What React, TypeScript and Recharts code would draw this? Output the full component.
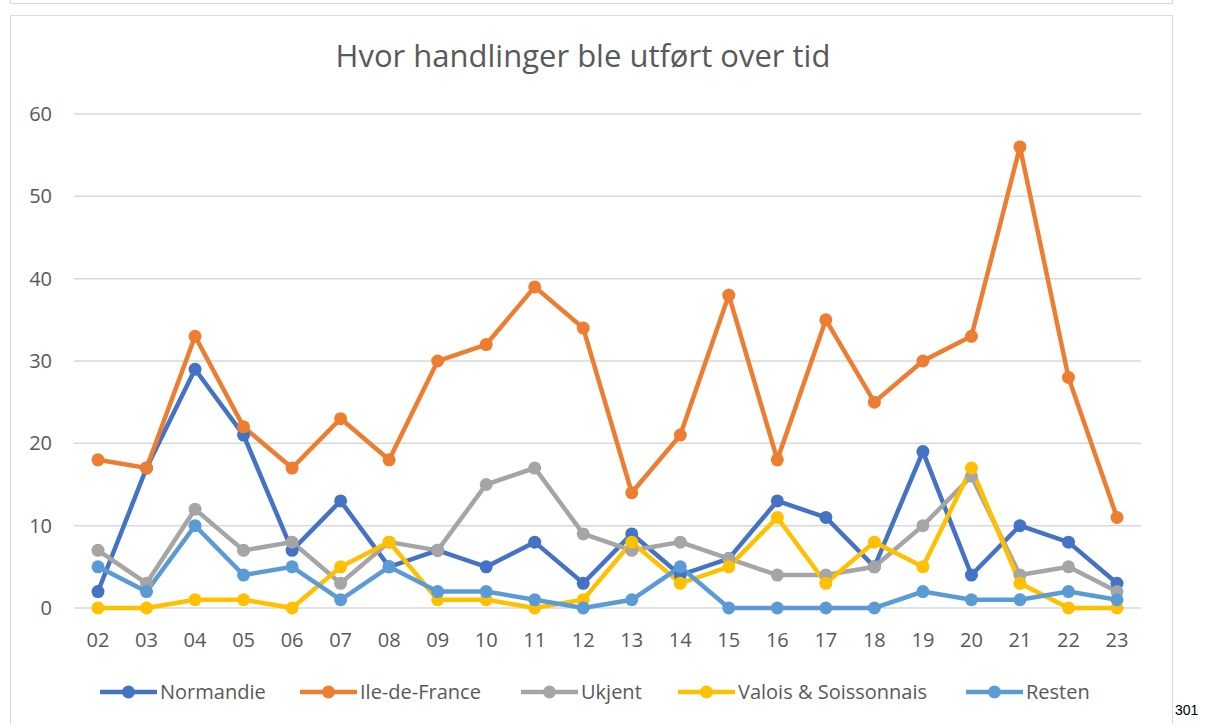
import React from "react";
import { LineChart, Line, XAxis, YAxis, CartesianGrid } from "recharts";

const categories = ["02","03","04","05","06","07","08","09","10","11","12","13","14","15","16","17","18","19","20","21","22","23"];
const normandie = [2,17,29,21,7,13,5,7,5,8,3,9,4,6,13,11,5,19,4,10,8,3];
const ileDeFrance = [18,17,33,22,17,23,18,30,32,39,34,14,21,38,18,35,25,30,33,56,28,11];
const ukjent = [7,3,12,7,8,3,8,7,15,17,9,7,8,6,4,4,5,10,16,4,5,2];
const valois = [0,0,1,1,0,5,8,1,1,0,1,8,3,5,11,3,8,5,17,3,0,0];
const resten = [5,2,10,4,5,1,5,2,2,1,0,1,5,0,0,0,0,2,1,1,2,1];
const yTicks = [0,10,20,30,40,50,60];

const series = [
  { key: "normandie", name: "Normandie", color: "#4472C4", values: normandie },
  { key: "ile", name: "Ile-de-France", color: "#ED7D31", values: ileDeFrance },
  { key: "ukjent", name: "Ukjent", color: "#A5A5A5", values: ukjent },
  { key: "valois", name: "Valois & Soissonnais", color: "#FFC000", values: valois },
  { key: "resten", name: "Resten", color: "#5B9BD5", values: resten },
];

const data = categories.map((c, i) => {
  const row: Record<string, string | number> = { cat: c };
  series.forEach((s) => { row[s.key] = s.values[i]; });
  return row;
});

const FONT = "'Open Sans', sans-serif";
const TXT = "#595959";

export default function App() {
  const lefts = [100, 300, 521, 678, 966];
  return (
    <div style={{ position: "fixed", left: 0, top: 0, width: 1206, height: 724, background: "#fff", overflow: "hidden", fontFamily: FONT }}>
      <div style={{ position: "absolute", left: 10, top: -20, width: 1161, height: 22, border: "1px solid #D9D9D9" }} />
      <div style={{ position: "absolute", left: 10, top: 15, width: 1161, height: 720, border: "1px solid #D9D9D9" }} />
      <div style={{ position: "absolute", left: 0, width: 1166, top: 34, textAlign: "center", fontSize: 31, lineHeight: "normal", fontWeight: 400, color: TXT, fontFamily: FONT, whiteSpace: "nowrap" }}>
        Hvor handlinger ble utført over tid
      </div>
      <div style={{ position: "absolute", left: 0, top: 0 }}>
        <LineChart width={1206} height={724} data={data} margin={{ top: 114, right: 65, bottom: 56, left: 34 }}>
          <CartesianGrid horizontal={true} vertical={false} stroke="#D9D9D9" strokeWidth={1.5} />
          <XAxis
            dataKey="cat"
            padding={{ left: 24, right: 24 }}
            axisLine={false}
            tickLine={false}
            tickSize={0}
            tickMargin={25}
            height={60}
            interval={0}
            tick={{ fill: TXT, fontSize: 20, fontFamily: FONT }}
          />
          <YAxis
            domain={[0, 60]}
            ticks={yTicks}
            width={40}
            axisLine={false}
            tickLine={false}
            tickSize={0}
            tickMargin={22}
            tick={{ fill: TXT, fontSize: 20, fontFamily: FONT }}
          />
          {series.map((s) => (
            <Line
              key={s.key}
              type="linear"
              dataKey={s.key}
              name={s.name}
              stroke={s.color}
              strokeWidth={4.5}
              dot={{ r: 6.5, fill: s.color, stroke: s.color, strokeWidth: 0 }}
              activeDot={false}
              isAnimationActive={false}
            />
          ))}
        </LineChart>
      </div>
      {series.map((s, i) => (
        <div key={s.key} style={{ position: "absolute", left: lefts[i], top: 680, height: 24, display: "flex", alignItems: "center" }}>
          <svg width={57} height={24} style={{ display: "block" }}>
            <line x1={0} y1={12} x2={57} y2={12} stroke={s.color} strokeWidth={4.5} />
            <circle cx={28.5} cy={12} r={6.5} fill={s.color} />
          </svg>
          <span style={{ marginLeft: 3, fontSize: 20, lineHeight: "24px", color: TXT, fontFamily: FONT, whiteSpace: "nowrap" }}>{s.name}</span>
        </div>
      ))}
      <div style={{ position: "absolute", left: 1175, top: 702, fontSize: 14, color: "#000", fontFamily: "'Liberation Sans', sans-serif" }}>301</div>
    </div>
  );
}
